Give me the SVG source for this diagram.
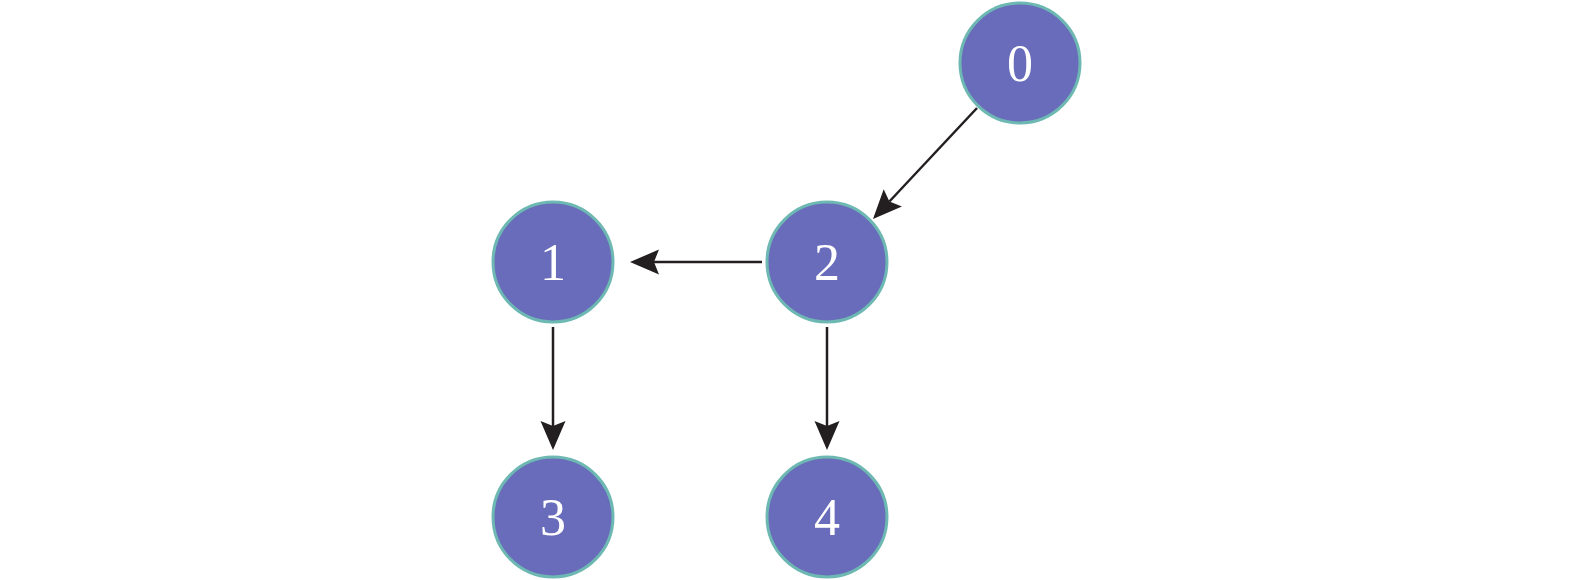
<svg xmlns="http://www.w3.org/2000/svg" width="1575" height="580" viewBox="0 0 1575 580">
<style>
.node circle { fill: #696cba; stroke: #6db8b2; stroke-width: 3; }
.node text { fill: #ffffff; font-family: "Liberation Serif", "Times New Roman", serif; font-size: 52px; text-anchor: middle; }
.edge { stroke: #231f20; stroke-width: 2.5; fill: none; marker-end: url(#arrow); }
</style>
<defs>
<marker id="arrow" viewBox="-6 -13 31 26" markerWidth="31" markerHeight="26" refX="0" refY="0" orient="auto" markerUnits="userSpaceOnUse">
<path d="M24,0 L-5,-12.5 L0,0 L-5,12.5 Z" fill="#231f20"/>
</marker>
</defs>
<rect width="1575" height="580" fill="#ffffff"/>
<g id="connectors">
<line class="edge" x1="977" y1="108" x2="889.4" y2="201.5"/>
<line class="edge" x1="762" y1="262" x2="654" y2="262"/>
<line class="edge" x1="553" y1="327" x2="553" y2="426"/>
<line class="edge" x1="827" y1="327" x2="827" y2="426"/>
</g>
<g id="node0" class="node"><circle cx="1020" cy="63" r="60"/><text x="1020" y="81">0</text></g>
<g id="node1" class="node"><circle cx="553" cy="262" r="60"/><text x="553" y="280">1</text></g>
<g id="node2" class="node"><circle cx="827" cy="262" r="60"/><text x="827" y="280">2</text></g>
<g id="node3" class="node"><circle cx="553" cy="517" r="60"/><text x="553" y="535">3</text></g>
<g id="node4" class="node"><circle cx="827" cy="517" r="60"/><text x="827" y="535">4</text></g>
</svg>
